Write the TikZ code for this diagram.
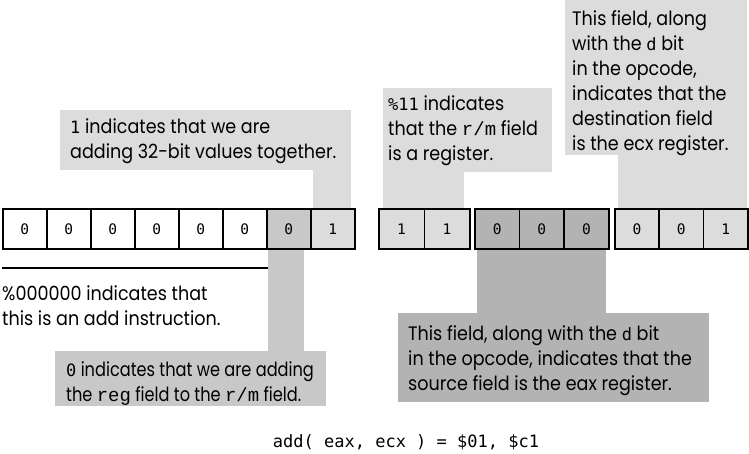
\documentclass[tikz,border=0pt]{standalone}
\usepackage{fontspec}
\setmainfont[FakeStretch=0.9]{Poppins}
\newfontfamily\narrowfont[FakeStretch=0.83]{Poppins}
\newfontfamily\codefont{DejaVu Sans Mono}
\newfontfamily\serifmono{Liberation Mono}
\definecolor{lightg}{HTML}{DCDCDC}
\definecolor{midg}{HTML}{C8C8C8}
\definecolor{darkg}{HTML}{B3B3B3}
\newcommand{\cd}[1]{{\codefont\fontsize{17}{17}\selectfont #1}}
\newcommand{\sm}[1]{{\serifmono\fontsize{19}{19}\selectfont #1}}
\begin{document}
\begin{tikzpicture}[x=1pt,y=-1pt,
  cell/.style={draw=black, line width=1.6pt, minimum height=40pt, inner sep=0pt, anchor=north west, font=\codefont\fontsize{14.5}{14.5}\selectfont},
  lbl/.style={font=\fontsize{19.5}{25}\selectfont, align=left, anchor=base west, inner sep=0pt}]
\useasboundingbox (0,0) rectangle (749,453);
% callout boxes and stems
\fill[lightg] (60,110) rectangle (351,170);
\fill[lightg] (313,169) rectangle (351,208);
\fill[lightg] (383,88) rectangle (552,172);
\fill[lightg] (383,171) rectangle (464,208);
\fill[lightg] (565,0) rectangle (747,155);
\fill[lightg] (618,154) rectangle (747,208);
\fill[midg] (268,248) rectangle (304,352);
\fill[midg] (55,351) rectangle (326,406);
\fill[darkg] (477,248) rectangle (606,314);
\fill[darkg] (398,313) rectangle (709,402);
% cells left group
\foreach \i/\v/\f in {0/0/white,1/0/white,2/0/white,3/0/white,4/0/white,5/0/white,6/0/midg,7/1/lightg}{
  \node[cell, fill=\f, minimum width=44pt] (l\i) at (2+44*\i,208) {\v};
}
\foreach \i/\v in {0/1,1/1}{
  \node[cell, fill=lightg, minimum width=45.5pt] (a\i) at (378+45.5*\i,208) {\v};
}
\foreach \i/\v in {0/0,1/0,2/0}{
  \node[cell, fill=darkg, minimum width=44.67pt] (b\i) at (474+44.67*\i,208) {\v};
}
\foreach \i/\v in {0/0,1/0,2/1}{
  \node[cell, fill=lightg, minimum width=44.33pt] (c\i) at (614+44.33*\i,208) {\v};
}
\coordinate (ls) at (2,268);
\coordinate (le) at (268,268);
\draw[line width=1.6pt] (ls) -- (le);
% texts (anchor at the baseline of the last line)
\node[lbl] (t1) at (70,158) {\cd{1} indicates that we are\\adding 32-bit values together.};
\node[lbl] (t2) at (388,160) {\cd{\%11} indicates\\that the \sm{r/m} field\\is a register.};
\node[lbl] (t3) at (572,150) {This field, along\\with the \cd{d} bit\\in the opcode,\\indicates that the\\destination field\\is the ecx register.};
\node[lbl] (t4) at (2,325) {\%000000 indicates that\\this is an add instruction.};
\node[lbl, font=\narrowfont\fontsize{19.5}{25}\selectfont] (t5) at (66,401) {\cd{0} indicates that we are adding\\the \sm{reg} field to the \sm{r/m} field.};
\node[lbl] (t6) at (408,390) {This field, along with the \cd{d} bit\\in the opcode, indicates that the\\source field is the eax register.};
\node[font=\codefont\fontsize{17}{17}\selectfont, inner sep=0pt, anchor=base] (code) at (406,447) {add( eax, ecx ) = \$01, \$c1};
\end{tikzpicture}
\end{document}
